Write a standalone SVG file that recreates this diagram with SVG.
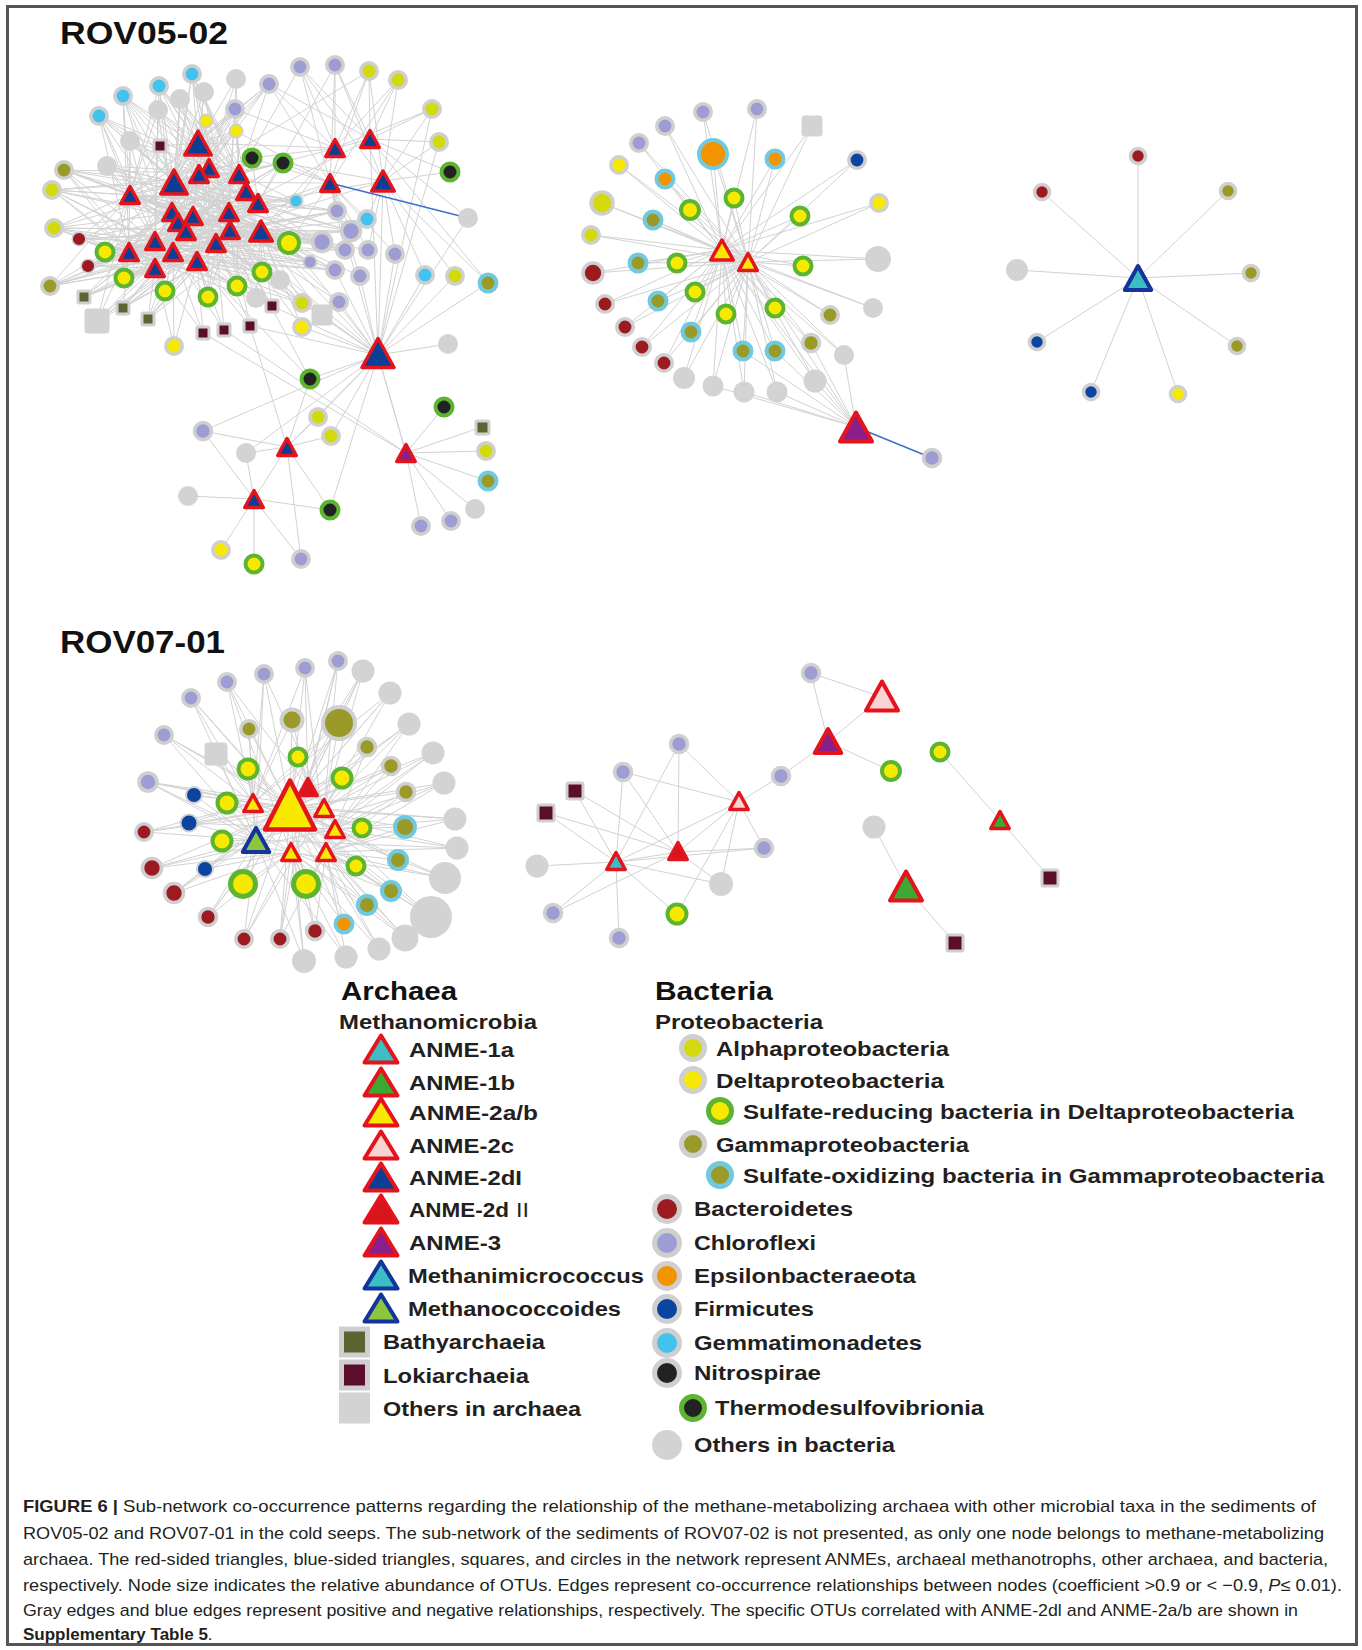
<svg xmlns="http://www.w3.org/2000/svg" width="1362" height="1650" viewBox="0 0 1362 1650">
<style>
.e{fill:none;stroke:#d2d2d2;stroke-width:1}
.ng{fill:none;stroke:#3d6fc9;stroke-width:1.4}
circle{stroke-width:3.6}
.al{fill:#d3da0b;stroke:#cfcfcf}
.de{fill:#f7e900;stroke:#cfcfcf}
.ga{fill:#999a27;stroke:#cfcfcf}
.bc{fill:#9b1b21;stroke:#cfcfcf}
.ch{fill:#9d9dd3;stroke:#cfcfcf}
.ep{fill:#f29400;stroke:#cfcfcf}
.fi{fill:#0c45a0;stroke:#cfcfcf}
.gm{fill:#44c2ee;stroke:#cfcfcf}
.ni{fill:#222222;stroke:#cfcfcf}
.ot{fill:#d3d3d3;stroke:none}
.srb{fill:#f7e900;stroke:#5cb431;stroke-width:4}
.sob{fill:#999a27;stroke:#70c9de;stroke-width:4}
.eps{fill:#f29400;stroke:#70c9de;stroke-width:4}
.tds{fill:#222222;stroke:#5cb431;stroke-width:4}
rect{stroke-width:3}
.ba{fill:#5d6431;stroke:#cfcfcf}
.lo{fill:#5b0e2c;stroke:#cfcfcf}
.oa{fill:#d3d3d3;stroke:#d3d3d3}
use{stroke-width:3.5;stroke-linejoin:round}
.t1a{fill:#3dbdc5;stroke:#e5131b}
.t1b{fill:#3aaa35;stroke:#e5131b}
.t2ab{fill:#f7e900;stroke:#e5131b}
.t2c{fill:#f7d4d4;stroke:#e5131b}
.t2d1{fill:#0b3f95;stroke:#e5131b}
.t2d2{fill:#d8141c;stroke:#e5131b}
.t3{fill:#8a1f8c;stroke:#e5131b}
.tmm{fill:#3dbdc5;stroke:#13349a}
.tmc{fill:#8cc63f;stroke:#13349a}
.h{font-family:"Liberation Sans",Arial,sans-serif;font-weight:bold;fill:#111}
.lg{font-family:"Liberation Sans",Arial,sans-serif;font-weight:bold;font-size:21px;fill:#231f20}
.cap{font-family:"Liberation Sans",Arial,sans-serif;font-size:17px;fill:#231f20}
</style>
<defs>
<path id="t22" d="M0-8.5L9.25 8.5H-9.25Z"/>
<path id="t26" d="M0-10L11.25 10H-11.25Z"/>
<path id="t30" d="M0-12L13.25 12H-13.25Z"/>
<path id="t36" d="M0-14.5L16 14.5H-16Z"/>
<path id="t55" d="M0-24.5L25 24.5H-25Z"/>
<path id="tl" d="M0-13.5L16.5 13.5H-16.5Z"/>
</defs>
<rect x="7.5" y="6.5" width="1349" height="1638" fill="#fff" stroke="#555" stroke-width="1.5"/>
<text class="h" x="60" y="44" font-size="32" textLength="168" lengthAdjust="spacingAndGlyphs">ROV05-02</text>
<text class="h" x="60" y="653" font-size="32" textLength="165" lengthAdjust="spacingAndGlyphs">ROV07-01</text>

<g id="connectors">
<path class="e" d="M198 143L192 74L174 182M209 168L192 74L172 212M239 174L192 74
M198 143L159 86L174 182M130 195L159 86L172 212M155 241L159 86
M174 182L123 96L130 195M172 212L123 96L129 252M173 252L123 96
M174 182L99 116L130 195M155 241L99 116L129 252M197 261L99 116
M198 143L236 79L209 168M239 174L236 79L229 212
M198 143L204 92L174 182M193 216L204 92L230 230
M174 182L180 99L172 212M173 252L180 99L216 243
M130 195L158 110L172 212M155 241L158 110L155 268
M198 143L269 84L239 174M335 148L269 84L370 139M330 183L269 84
M239 174L300 67L335 148M370 139L300 67L330 183M383 181L300 67
M335 148L335 65L370 139M330 183L335 65L383 181M258 203L335 65
M335 148L369 71L370 139M383 181L369 71L330 183M209 168L369 71
M370 139L398 80L383 181M335 148L398 80L330 183
M370 139L432 109L383 181M378 355L432 109L335 148
M383 181L439 142L370 139M378 355L439 142
M198 143L235 109L209 168M239 174L235 109L229 212M335 148L235 109
M198 143L206 121L174 182M209 168L206 121L193 216
M198 143L236 131L239 174M246 191L236 131L330 183
M174 182L130 141L130 195M155 241L130 141L129 252
M198 143L160 146L174 182M130 195L160 146
M239 174L252 158L258 203M330 183L252 158L335 148
M239 174L283 163L246 191M258 203L283 163L330 183M383 181L283 163
M383 181L450 172L370 139
M174 182L64 170L130 195M172 212L64 170L155 241M129 252L64 170L155 268
M174 182L52 190L130 195M155 241L52 190L129 252M173 252L52 190L155 268
M174 182L107 166L130 195M172 212L107 166L155 241
M130 195L54 228L155 241M129 252L54 228L155 268M173 252L54 228
M130 195L79 239L155 241M129 252L79 239L155 268
M129 252L88 266L155 268M197 261L88 266L155 241
M129 252L50 286L155 268M173 252L50 286L197 261M130 195L50 286
M130 195L105 252L155 241M129 252L105 252L155 268
M258 203L289 243L230 230M261 231L289 243L229 212M330 183L289 243
M129 252L124 278L155 268M173 252L124 278L197 261
M230 230L262 272L261 231M216 243L262 272L197 261
M155 268L165 291L173 252M197 261L165 291L155 241
M173 252L208 297L197 261M216 243L208 297L230 230
M216 243L237 286L230 230M261 231L237 286L197 261
M258 203L296 201L261 231M330 183L296 201L246 191M239 174L296 201L335 148
M258 203L337 211L261 231M330 183L337 211L230 230
M330 183L367 219L383 181M261 231L367 219
M261 231L351 231L330 183M258 203L351 231L230 230
M261 231L322 242L230 230M258 203L322 242L229 212
M261 231L345 250L230 230M330 183L345 250
M261 231L368 250L330 183M383 181L368 250
M383 181L395 254L330 183M378 355L395 254
M261 231L310 262L230 230M216 243L310 262
M261 231L335 270L230 230M197 261L335 270L378 355
M261 231L360 276L330 183M378 355L360 276
M261 231L339 302L230 230M378 355L339 302
M383 181L425 275L378 355
M383 181L455 276L378 355
M383 181L488 283L378 355M370 139L488 283
M378 355L468 218L370 139
M129 252L84 297L155 268M155 241L84 297
M129 252L123 308L155 268M173 252L123 308
M155 268L148 319L173 252M197 261L148 319
M129 252L97 321L155 268M130 195L97 321
M230 230L272 306L261 231M216 243L272 306L378 355
M216 243L250 326L230 230M197 261L250 326L378 355M287 447L250 326
M197 261L224 330L216 243M173 252L224 330L406 453
M197 261L203 333L173 252M155 268L203 333L406 453
M261 231L302 303L230 230M378 355L302 303
M230 230L302 327L261 231M378 355L302 327
M261 231L322 315L230 230M378 355L322 315
M155 268L174 346L173 252M197 261L174 346
M230 230L280 280L261 231M216 243L280 280
M230 230L256 298L261 231M216 243L256 298
M378 355L448 344
M378 355L261 231M378 355L230 230M378 355L258 203M378 355L330 183M378 355L383 181M378 355L216 243M378 355L370 139
M198 143L261 231M174 182L261 231M130 195L258 203M155 268L239 174M129 252L229 212M198 143L155 268M173 252L246 191M209 168L155 241M130 195L230 230M172 212L261 231M216 243L174 182M198 143L129 252M197 261L239 174M193 216L130 195M209 168L197 261M239 174L173 252M186 231L258 203M178 222L246 191M172 212L229 212M155 241L261 231
M335 148L198 143M370 139L239 174M330 183L174 182M383 181L258 203M335 148L261 231M370 139L229 212M330 183L155 241M383 181L230 230
M378 355L310 379M378 355L318 417M378 355L331 436M378 355L287 447M378 355L246 453M378 355L330 510M378 355L406 453M378 355L203 431
M287 447L203 431M287 447L246 453M287 447L318 417M287 447L331 436M287 447L330 510M287 447L301 559M287 447L254 499M287 447L310 379
M254 499L188 496M254 499L203 431M254 499L246 453M254 499L330 510M254 499L221 550M254 499L254 564M254 499L301 559
M406 453L444 407M406 453L482 427M406 453L486 451M406 453L488 481M406 453L475 509M406 453L451 521M406 453L421 526M406 453L378 355
M310 379L197 261M310 379L230 230"/>
<path class="e" d="M258 203L192 74L261 231L159 86L258 203L123 96L261 231L99 116L258 203L64 170L261 231L52 190L258 203L54 228L261 231L79 239L258 203L88 266L261 231L50 286L258 203L105 252L261 231L124 278L258 203L84 297L261 231L123 308L258 203L148 319L261 231L97 321L258 203L130 141L261 231L107 166L258 203L158 110L261 231L180 99L258 203
M230 230L192 74L239 174L159 86L230 230L123 96L239 174L99 116L230 230L64 170L239 174L52 190L230 230L54 228L239 174L79 239L230 230L88 266L239 174L50 286L230 230L105 252L239 174L124 278L230 230L84 297L239 174L123 308L230 230L148 319L239 174L97 321L230 230L130 141L239 174L107 166L230 230L158 110L239 174L180 99L230 230
M130 195L296 201L129 252L337 211L130 195L351 231L129 252L322 242L130 195L345 250L129 252L310 262L130 195L335 270L129 252L289 243L130 195L262 272L129 252L237 286L130 195L252 158L129 252L283 163L130 195L236 131L129 252L235 109L130 195L269 84L129 252L302 303L130 195L272 306L129 252L280 280L130 195
M155 241L296 201L174 182L337 211L155 241L351 231L174 182L322 242L155 241L345 250L174 182L310 262L155 241L335 270L174 182L289 243L155 241L262 272L174 182L237 286L155 241L252 158L174 182L283 163L155 241L236 131L174 182L235 109L155 241L269 84L174 182L302 303L155 241L272 306L174 182L280 280L155 241
M165 291L198 143M208 297L209 168M237 286L239 174M262 272L198 143M165 291L239 174M208 297L174 182M124 278L209 168M105 252L198 143M88 266L246 191"/>
<path class="ng" d="M330 183L468 218"/>
<path class="e" d="M722 250L703 112L748 262M722 250L757 109L748 262M722 250L665 126L748 262M722 250L639 143L748 262M722 250L812 126L748 262M722 250L713 154L748 262M722 250L775 159L748 262M722 250L665 179L748 262M722 250L857 160L748 262M722 250L619 165L748 262M722 250L602 203L748 262M722 250L690 210L748 262M722 250L734 198L748 262M722 250L800 216L748 262M722 250L879 203L748 262M722 250L653 220L748 262M722 250L591 235L748 262M722 250L638 263L748 262M722 250L677 263L748 262M722 250L803 266L748 262M722 250L878 259L748 262M722 250L593 273L748 262M722 250L605 304L748 262M722 250L625 327L748 262M722 250L642 347L748 262M722 250L664 363L748 262M722 250L658 301L748 262M722 250L695 292L748 262M722 250L726 314L748 262M722 250L775 308L748 262M722 250L873 308L748 262M722 250L830 315L748 262M722 250L691 332L748 262M722 250L743 351L748 262M722 250L775 351L748 262M722 250L811 343L748 262M722 250L844 355L748 262M722 250L684 378L748 262M722 250L713 386L748 262M722 250L744 392L748 262M722 250L777 392L748 262M722 250L815 381L748 262
M856 427L777 392M856 427L815 381M856 427L744 392M856 427L743 351M856 427L775 351M856 427L811 343M856 427L844 355M856 427L713 386M856 427L722 250M856 427L748 262"/>
<path class="ng" d="M856 427L932 458"/>
<path class="e" d="M1138 278L1138 156M1138 278L1042 192M1138 278L1228 191M1138 278L1251 273M1138 278L1237 346M1138 278L1017 270M1138 278L1037 342M1138 278L1091 392M1138 278L1178 394"/>
<path class="e" d="M290 808L338 661L308 787M324 808L338 661
M290 808L305 668L308 787M253 803L305 668
M290 808L264 674L253 803M256 840L264 674
M290 808L227 682L253 803M291 852L227 682
M290 808L191 698L253 803M256 840L191 698
M290 808L164 735L256 840M253 803L164 735
M290 808L148 782L253 803M256 840L148 782L291 852
M290 808L363 671L308 787M324 808L363 671
M290 808L390 693L324 808M308 787L390 693
M290 808L409 724L324 808M335 829L409 724
M290 808L433 753L335 829M324 808L433 753
M290 808L444 783L335 829M326 852L444 783
M290 808L455 819L335 829M326 852L455 819
M290 808L457 848L326 852M335 829L457 848
M290 808L445 878L326 852M291 852L445 878
M290 808L431 917L326 852M335 829L431 917
M290 808L405 938L326 852M291 852L405 938
M291 852L379 949L326 852M290 808L379 949
M291 852L346 957L326 852M256 840L346 957
M291 852L304 961L256 840M290 808L304 961
M290 808L339 723L308 787M324 808L339 723L253 803
M290 808L292 720L308 787M253 803L292 720
M290 808L249 729L253 803M256 840L249 729
M290 808L367 747L324 808M335 829L367 747
M290 808L391 766L324 808M335 829L391 766
M290 808L406 792L335 829M326 852L406 792
M290 808L216 754L253 803M256 840L216 754
M290 808L248 769L253 803M256 840L248 769
M290 808L298 757L308 787M324 808L298 757
M290 808L342 778L324 808M308 787L342 778
M290 808L227 803L256 840M291 852L227 803
M290 808L222 841L256 840M291 852L222 841
M335 829L362 828L326 852M290 808L362 828
M326 852L356 866L291 852M290 808L356 866
M256 840L243 884L291 852M290 808L243 884
M291 852L306 884L326 852M290 808L306 884
M290 808L194 795L253 803M256 840L194 795
M290 808L189 823L256 840M253 803L189 823
M256 840L205 869L291 852M290 808L205 869
M290 808L144 832L256 840M253 803L144 832
M290 808L152 868L256 840M291 852L152 868
M256 840L174 893L291 852M290 808L174 893
M256 840L208 917L291 852M290 808L208 917
M291 852L244 939L256 840M290 808L244 939
M291 852L280 939L326 852M290 808L280 939
M326 852L315 931L291 852M290 808L315 931
M335 829L405 827L326 852M290 808L405 827
M326 852L398 860L335 829M290 808L398 860
M326 852L391 891L291 852M290 808L391 891
M326 852L367 905L291 852M290 808L367 905
M326 852L344 924L291 852M290 808L344 924
M253 803L335 829M308 787L256 840M324 808L291 852M253 803L326 852
M148 782L324 808M164 735L335 829M191 698L326 852M144 832L324 808M152 868L335 829M455 819L253 803M444 783L256 840M433 753L291 852M409 724L256 840M445 878L253 803M431 917L253 803M363 671L256 840M338 661L291 852M305 668L326 852M264 674L335 829M244 939L324 808M280 939L308 787M208 917L308 787M227 682L324 808M390 693L253 803M457 848L256 840M405 938L253 803M189 823L335 829M174 893L308 787"/>
<path class="e" d="M811 673L882 697M811 673L828 742L882 697M828 742L891 771M828 742L781 776L739 802
M739 802L679 744M739 802L623 772M739 802L616 862M739 802L678 852M739 802L764 848M739 802L721 884M739 802L677 914
M616 862L575 791M616 862L546 813M616 862L537 866M616 862L623 772M616 862L679 744M616 862L678 852M616 862L764 848M616 862L721 884M616 862L553 913M616 862L619 938M616 862L677 914
M678 852L679 744M678 852L623 772M678 852L575 791M678 852L546 813M678 852L764 848M678 852L721 884M678 852L553 913
M940 752L1000 820L1050 878M874 827L906 887L955 943"/>
</g>

<g id="nodes-rov05-a">
<g id="a1"><circle class="ot" cx="236" cy="79" r="10"/></g>
<g id="a2"><circle class="ot" cx="204" cy="92" r="10"/></g>
<g id="a3"><circle class="ot" cx="180" cy="99" r="10"/></g>
<g id="a4"><circle class="ot" cx="158" cy="110" r="10"/></g>
<g id="a5"><circle class="ot" cx="130" cy="141" r="10"/></g>
<g id="a6"><circle class="ot" cx="107" cy="166" r="10"/></g>
<g id="a7"><circle class="ot" cx="280" cy="280" r="10"/></g>
<g id="a7b"><circle class="ot" cx="256" cy="298" r="10"/></g>
<g id="a8"><circle class="ot" cx="448" cy="344" r="10"/></g>
<g id="a9"><circle class="ot" cx="468" cy="218" r="10"/></g>
<g id="a10"><circle class="ch" cx="269" cy="84" r="8.2"/></g>
<g id="a11"><circle class="ch" cx="300" cy="67" r="8.2"/></g>
<g id="a12"><circle class="ch" cx="335" cy="65" r="8.2"/></g>
<g id="a13"><circle class="ch" cx="235" cy="109" r="8.2"/></g>
<g id="a14"><circle class="ch" cx="337" cy="211" r="8.2"/></g>
<g id="a15"><circle class="ch" cx="351" cy="231" r="9.5"/></g>
<g id="a16"><circle class="ch" cx="322" cy="242" r="9.5"/></g>
<g id="a17"><circle class="ch" cx="345" cy="250" r="8.2"/></g>
<g id="a18"><circle class="ch" cx="368" cy="250" r="8.2"/></g>
<g id="a19"><circle class="ch" cx="395" cy="254" r="8.2"/></g>
<g id="a20"><circle class="ch" cx="310" cy="262" r="6.5" style="stroke-width:2"/></g>
<g id="a21"><circle class="ch" cx="335" cy="270" r="8.2"/></g>
<g id="a22"><circle class="ch" cx="360" cy="276" r="8.2"/></g>
<g id="a23"><circle class="ch" cx="339" cy="302" r="8.2"/></g>
<g id="a24"><circle class="gm" cx="192" cy="74" r="8.2"/></g>
<g id="a25"><circle class="gm" cx="159" cy="86" r="8.2"/></g>
<g id="a26"><circle class="gm" cx="123" cy="96" r="8.2"/></g>
<g id="a27"><circle class="gm" cx="99" cy="116" r="8.2"/></g>
<g id="a28"><circle class="gm" cx="296" cy="201" r="6.5" style="stroke-width:2"/></g>
<g id="a29"><circle class="gm" cx="367" cy="219" r="8.2"/></g>
<g id="a30"><circle class="gm" cx="425" cy="275" r="8.2"/></g>
<g id="a31"><circle class="al" cx="369" cy="71" r="8.2"/></g>
<g id="a32"><circle class="al" cx="398" cy="80" r="8.2"/></g>
<g id="a33"><circle class="al" cx="432" cy="109" r="8.2"/></g>
<g id="a34"><circle class="al" cx="439" cy="142" r="8.2"/></g>
<g id="a35"><circle class="al" cx="52" cy="190" r="8.2"/></g>
<g id="a36"><circle class="al" cx="54" cy="228" r="8.2"/></g>
<g id="a37"><circle class="al" cx="455" cy="276" r="8.2"/></g>
<g id="a38"><circle class="al" cx="302" cy="303" r="8.2"/></g>
<g id="a39"><circle class="de" cx="206" cy="121" r="6.5" style="stroke-width:2"/></g>
<g id="a40"><circle class="de" cx="236" cy="131" r="6.5" style="stroke-width:2"/></g>
<g id="a41"><circle class="de" cx="302" cy="327" r="8.2"/></g>
<g id="a42"><circle class="de" cx="174" cy="346" r="8.2"/></g>
<g id="a43"><circle class="ga" cx="64" cy="170" r="8.2"/></g>
<g id="a44"><circle class="ga" cx="50" cy="286" r="8.2"/></g>
<g id="a45"><circle class="bc" cx="79" cy="239" r="6.8" style="stroke-width:1.5"/></g>
<g id="a46"><circle class="bc" cx="88" cy="266" r="6.8" style="stroke-width:1.5"/></g>
<g id="a47"><circle class="tds" cx="252" cy="158" r="8.5"/></g>
<g id="a48"><circle class="tds" cx="283" cy="163" r="8.5"/></g>
<g id="a49"><circle class="tds" cx="450" cy="172" r="8.5"/></g>
<g id="a50"><circle class="srb" cx="105" cy="252" r="8.5"/></g>
<g id="a51"><circle class="srb" cx="289" cy="243" r="10"/></g>
<g id="a52"><circle class="srb" cx="124" cy="278" r="8.5"/></g>
<g id="a53"><circle class="srb" cx="262" cy="272" r="8.5"/></g>
<g id="a54"><circle class="srb" cx="165" cy="291" r="8.5"/></g>
<g id="a55"><circle class="srb" cx="208" cy="297" r="8.5"/></g>
<g id="a56"><circle class="srb" cx="237" cy="286" r="8.5"/></g>
<g id="a57"><circle class="sob" cx="488" cy="283" r="8.5"/></g>
<g id="a58"><rect class="lo" x="154" y="140" width="12" height="12" rx="1.5"/></g>
<g id="a59"><rect class="lo" x="266" y="300" width="12" height="12" rx="1.5"/></g>
<g id="a60"><rect class="lo" x="244" y="320" width="12" height="12" rx="1.5"/></g>
<g id="a61"><rect class="lo" x="218" y="324" width="12" height="12" rx="1.5"/></g>
<g id="a62"><rect class="lo" x="197" y="327" width="12" height="12" rx="1.5"/></g>
<g id="a63"><rect class="ba" x="78" y="291" width="12" height="12" rx="1.5"/></g>
<g id="a64"><rect class="ba" x="117" y="302" width="12" height="12" rx="1.5"/></g>
<g id="a65"><rect class="ba" x="142" y="313" width="12" height="12" rx="1.5"/></g>
<g id="a66"><rect class="oa" x="86" y="310" width="22" height="22" rx="2"/></g>
<g id="a67"><rect class="oa" x="313" y="306" width="18" height="18" rx="2"/></g>
<g id="a68"><use href="#t30" x="198" y="143" class="t2d1"/></g>
<g id="a69"><use href="#t30" x="174" y="182" class="t2d1"/></g>
<g id="a70"><use href="#t22" x="130" y="195" class="t2d1"/></g>
<g id="a71"><use href="#t22" x="209" y="168" class="t2d1"/></g>
<g id="a72"><use href="#t22" x="199" y="174" class="t2d1"/></g>
<g id="a73"><use href="#t22" x="239" y="174" class="t2d1"/></g>
<g id="a74"><use href="#t22" x="246" y="191" class="t2d1"/></g>
<g id="a75"><use href="#t22" x="258" y="203" class="t2d1"/></g>
<g id="a76"><use href="#t22" x="172" y="212" class="t2d1"/></g>
<g id="a77"><use href="#t22" x="193" y="216" class="t2d1"/></g>
<g id="a78"><use href="#t22" x="178" y="222" class="t2d1"/></g>
<g id="a79"><use href="#t22" x="186" y="231" class="t2d1"/></g>
<g id="a80"><use href="#t22" x="229" y="212" class="t2d1"/></g>
<g id="a81"><use href="#t22" x="230" y="230" class="t2d1"/></g>
<g id="a82"><use href="#t26" x="261" y="231" class="t2d1"/></g>
<g id="a83"><use href="#t22" x="155" y="241" class="t2d1"/></g>
<g id="a84"><use href="#t22" x="129" y="252" class="t2d1"/></g>
<g id="a85"><use href="#t22" x="173" y="252" class="t2d1"/></g>
<g id="a86"><use href="#t22" x="216" y="243" class="t2d1"/></g>
<g id="a87"><use href="#t22" x="197" y="261" class="t2d1"/></g>
<g id="a88"><use href="#t22" x="155" y="268" class="t2d1"/></g>
<g id="a89"><use href="#t22" x="335" y="148" class="t2d1"/></g>
<g id="a90"><use href="#t22" x="370" y="139" class="t2d1"/></g>
<g id="a91"><use href="#t22" x="330" y="183" class="t2d1"/></g>
<g id="a92"><use href="#t26" x="383" y="181" class="t2d1"/></g>
<g id="a93"><circle class="ch" cx="203" cy="431" r="8.5"/></g>
<g id="a94"><circle class="ot" cx="246" cy="453" r="10"/></g>
<g id="a95"><circle class="ot" cx="188" cy="496" r="10"/></g>
<g id="a96"><circle class="ch" cx="301" cy="559" r="8.2"/></g>
<g id="a97"><circle class="de" cx="221" cy="550" r="8.2"/></g>
<g id="a98"><circle class="srb" cx="254" cy="564" r="8.5"/></g>
<g id="a99"><circle class="tds" cx="310" cy="379" r="8.5"/></g>
<g id="a100"><circle class="al" cx="318" cy="417" r="8.2"/></g>
<g id="a101"><circle class="al" cx="331" cy="436" r="8.2"/></g>
<g id="a102"><circle class="tds" cx="330" cy="510" r="8.5"/></g>
<g id="a103"><circle class="tds" cx="444" cy="407" r="8.5"/></g>
<g id="a104"><rect class="ba" x="476" y="421" width="13" height="13" rx="1.5"/></g>
<g id="a105"><circle class="al" cx="486" cy="451" r="8.2"/></g>
<g id="a106"><circle class="sob" cx="488" cy="481" r="8.5"/></g>
<g id="a107"><circle class="ot" cx="475" cy="509" r="10"/></g>
<g id="a108"><circle class="ch" cx="451" cy="521" r="8.2"/></g>
<g id="a109"><circle class="ch" cx="421" cy="526" r="8.2"/></g>
<g id="a110"><use href="#t36" x="378" y="353" class="t2d1"/></g>
<g id="a111"><use href="#t22" x="287" y="447" class="t2d1"/></g>
<g id="a112"><use href="#t22" x="254" y="499" class="t2d1"/></g>
<g id="a113"><use href="#t22" x="406" y="453" class="t3"/></g>
</g>

<g id="nodes-rov05-b">
<g id="b1"><circle class="ch" cx="703" cy="112" r="8.2"/></g>
<g id="b2"><circle class="ch" cx="757" cy="109" r="8.2"/></g>
<g id="b3"><circle class="ch" cx="665" cy="126" r="8.2"/></g>
<g id="b4"><circle class="ch" cx="639" cy="143" r="8.2"/></g>
<g id="b5"><rect class="oa" x="803" y="117" width="18" height="18" rx="2"/></g>
<g id="b6"><circle class="eps" cx="713" cy="154" r="14"/></g>
<g id="b7"><circle class="eps" cx="775" cy="159" r="8.5"/></g>
<g id="b8"><circle class="eps" cx="665" cy="179" r="8.5"/></g>
<g id="b9"><circle class="fi" cx="857" cy="160" r="8.2"/></g>
<g id="b10"><circle class="de" cx="619" cy="165" r="8.2"/></g>
<g id="b11"><circle class="al" cx="602" cy="203" r="11"/></g>
<g id="b12"><circle class="srb" cx="690" cy="210" r="9"/></g>
<g id="b13"><circle class="srb" cx="734" cy="198" r="8.5"/></g>
<g id="b14"><circle class="srb" cx="800" cy="216" r="8.5"/></g>
<g id="b15"><circle class="de" cx="879" cy="203" r="8.2"/></g>
<g id="b16"><circle class="sob" cx="653" cy="220" r="8.5"/></g>
<g id="b17"><circle class="al" cx="591" cy="235" r="8.2"/></g>
<g id="b18"><circle class="sob" cx="638" cy="263" r="8.5"/></g>
<g id="b19"><circle class="srb" cx="677" cy="263" r="8.5"/></g>
<g id="b20"><circle class="srb" cx="803" cy="266" r="8.5"/></g>
<g id="b21"><circle class="ot" cx="878" cy="259" r="13"/></g>
<g id="b22"><circle class="bc" cx="593" cy="273" r="10"/></g>
<g id="b23"><circle class="bc" cx="605" cy="304" r="8.2"/></g>
<g id="b24"><circle class="bc" cx="625" cy="327" r="8.2"/></g>
<g id="b25"><circle class="bc" cx="642" cy="347" r="8.2"/></g>
<g id="b26"><circle class="bc" cx="664" cy="363" r="8.2"/></g>
<g id="b27"><circle class="sob" cx="658" cy="301" r="8.5"/></g>
<g id="b28"><circle class="srb" cx="695" cy="292" r="8.5"/></g>
<g id="b29"><circle class="srb" cx="726" cy="314" r="8.5"/></g>
<g id="b30"><circle class="srb" cx="775" cy="308" r="8.5"/></g>
<g id="b31"><circle class="ot" cx="873" cy="308" r="10"/></g>
<g id="b32"><circle class="ga" cx="830" cy="315" r="8.2"/></g>
<g id="b33"><circle class="sob" cx="691" cy="332" r="8.5"/></g>
<g id="b34"><circle class="sob" cx="743" cy="351" r="8.5"/></g>
<g id="b35"><circle class="sob" cx="775" cy="351" r="8.5"/></g>
<g id="b36"><circle class="ga" cx="811" cy="343" r="8.5"/></g>
<g id="b37"><circle class="ot" cx="844" cy="355" r="10"/></g>
<g id="b38"><circle class="ot" cx="684" cy="378" r="11"/></g>
<g id="b39"><circle class="ot" cx="713" cy="386" r="10.5"/></g>
<g id="b40"><circle class="ot" cx="744" cy="392" r="10.5"/></g>
<g id="b41"><circle class="ot" cx="777" cy="392" r="10.5"/></g>
<g id="b42"><circle class="ot" cx="815" cy="381" r="11.5"/></g>
<g id="b43"><circle class="ch" cx="932" cy="458" r="8.5"/></g>
<g id="b44"><use href="#t26" x="722" y="250" class="t2ab"/></g>
<g id="b45"><use href="#t22" x="748" y="262" class="t2ab"/></g>
<g id="b46"><use href="#t36" x="856" y="427" class="t3" style="stroke-width:4"/></g>
</g>

<g id="nodes-rov05-c">
<g id="c1"><circle class="bc" cx="1138" cy="156" r="7.5"/></g>
<g id="c2"><circle class="bc" cx="1042" cy="192" r="7.5"/></g>
<g id="c3"><circle class="ga" cx="1228" cy="191" r="7.5"/></g>
<g id="c4"><circle class="ga" cx="1251" cy="273" r="7.5"/></g>
<g id="c5"><circle class="ga" cx="1237" cy="346" r="7.5"/></g>
<g id="c6"><circle class="ot" cx="1017" cy="270" r="11"/></g>
<g id="c7"><circle class="fi" cx="1037" cy="342" r="7.5"/></g>
<g id="c8"><circle class="fi" cx="1091" cy="392" r="7.5"/></g>
<g id="c9"><circle class="de" cx="1178" cy="394" r="7.5"/></g>
<g id="c10"><use href="#t30" x="1138" y="278" class="tmm" style="stroke-width:4"/></g>
</g>

<g id="nodes-rov07-a">
<g id="d1"><circle class="ch" cx="338" cy="661" r="8.2"/></g>
<g id="d2"><circle class="ch" cx="305" cy="668" r="8.2"/></g>
<g id="d3"><circle class="ch" cx="264" cy="674" r="8.2"/></g>
<g id="d4"><circle class="ch" cx="227" cy="682" r="8.2"/></g>
<g id="d5"><circle class="ch" cx="191" cy="698" r="8.2"/></g>
<g id="d6"><circle class="ch" cx="164" cy="735" r="8.2"/></g>
<g id="d7"><circle class="ch" cx="148" cy="782" r="9"/></g>
<g id="d8"><circle class="ot" cx="363" cy="671" r="11.5"/></g>
<g id="d9"><circle class="ot" cx="390" cy="693" r="11.5"/></g>
<g id="d10"><circle class="ot" cx="409" cy="724" r="11.5"/></g>
<g id="d11"><circle class="ot" cx="433" cy="753" r="11.5"/></g>
<g id="d12"><circle class="ot" cx="444" cy="783" r="11.5"/></g>
<g id="d13"><circle class="ot" cx="455" cy="819" r="11.5"/></g>
<g id="d14"><circle class="ot" cx="457" cy="848" r="11.5"/></g>
<g id="d15"><circle class="ot" cx="445" cy="878" r="16"/></g>
<g id="d16"><circle class="ot" cx="431" cy="917" r="21"/></g>
<g id="d17"><circle class="ot" cx="405" cy="938" r="13.5"/></g>
<g id="d18"><circle class="ot" cx="379" cy="949" r="11.5"/></g>
<g id="d19"><circle class="ot" cx="346" cy="957" r="11.5"/></g>
<g id="d20"><circle class="ot" cx="304" cy="961" r="12"/></g>
<g id="d21"><circle class="ga" cx="339" cy="723" r="16" style="stroke-width:4"/></g>
<g id="d22"><circle class="ga" cx="292" cy="720" r="10.5" style="stroke-width:4"/></g>
<g id="d23"><circle class="ga" cx="249" cy="729" r="8.2"/></g>
<g id="d24"><circle class="ga" cx="367" cy="747" r="8.5"/></g>
<g id="d25"><circle class="ga" cx="391" cy="766" r="8.5"/></g>
<g id="d26"><circle class="ga" cx="406" cy="792" r="8.5"/></g>
<g id="d27"><rect class="oa" x="206" y="744" width="20" height="20" rx="2"/></g>
<g id="d28"><circle class="srb" cx="248" cy="769" r="9.5"/></g>
<g id="d29"><circle class="srb" cx="298" cy="757" r="8.5"/></g>
<g id="d30"><circle class="srb" cx="342" cy="778" r="9.5"/></g>
<g id="d31"><circle class="srb" cx="227" cy="803" r="9.5"/></g>
<g id="d32"><circle class="srb" cx="222" cy="841" r="9.5"/></g>
<g id="d33"><circle class="srb" cx="362" cy="828" r="8.5"/></g>
<g id="d34"><circle class="srb" cx="356" cy="866" r="8.5"/></g>
<g id="d35"><circle class="srb" cx="243" cy="884" r="12.5" style="stroke-width:5"/></g>
<g id="d36"><circle class="srb" cx="306" cy="884" r="12.5" style="stroke-width:5"/></g>
<g id="d37"><circle class="fi" cx="194" cy="795" r="8" style="stroke-width:2"/></g>
<g id="d38"><circle class="fi" cx="189" cy="823" r="8.5" style="stroke-width:2"/></g>
<g id="d39"><circle class="fi" cx="205" cy="869" r="8" style="stroke-width:2"/></g>
<g id="d40"><circle class="bc" cx="144" cy="832" r="8.2"/></g>
<g id="d41"><circle class="bc" cx="152" cy="868" r="9.5"/></g>
<g id="d42"><circle class="bc" cx="174" cy="893" r="9.5"/></g>
<g id="d43"><circle class="bc" cx="208" cy="917" r="8.5"/></g>
<g id="d44"><circle class="bc" cx="244" cy="939" r="8.2"/></g>
<g id="d45"><circle class="bc" cx="280" cy="939" r="8.2"/></g>
<g id="d46"><circle class="bc" cx="315" cy="931" r="8.5"/></g>
<g id="d47"><circle class="sob" cx="405" cy="827" r="10"/></g>
<g id="d48"><circle class="sob" cx="398" cy="860" r="9"/></g>
<g id="d49"><circle class="sob" cx="391" cy="891" r="9"/></g>
<g id="d50"><circle class="sob" cx="367" cy="905" r="9"/></g>
<g id="d51"><circle class="eps" cx="344" cy="924" r="8.5"/></g>
<g id="d52"><use href="#t22" x="308" y="787" class="t2d2"/></g>
<g id="d53"><use href="#t55" x="290" y="805" class="t2ab" style="stroke-width:4.5"/></g>
<g id="d54"><use href="#t22" x="253" y="803" class="t2ab"/></g>
<g id="d55"><use href="#t22" x="324" y="808" class="t2ab"/></g>
<g id="d56"><use href="#t22" x="335" y="829" class="t2ab"/></g>
<g id="d57"><use href="#t22" x="291" y="852" class="t2ab"/></g>
<g id="d58"><use href="#t22" x="326" y="852" class="t2ab"/></g>
<g id="d59"><use href="#t30" x="256" y="840" class="tmc" style="stroke-width:4"/></g>
</g>

<g id="nodes-rov07-b">
<g id="f1"><circle class="ch" cx="811" cy="673" r="8.5"/></g>
<g id="f2"><circle class="srb" cx="891" cy="771" r="9"/></g>
<g id="f3"><circle class="srb" cx="940" cy="752" r="8.5"/></g>
<g id="f4"><circle class="ch" cx="781" cy="776" r="8.5"/></g>
<g id="f5"><circle class="ch" cx="679" cy="744" r="8.5"/></g>
<g id="f6"><circle class="ch" cx="623" cy="772" r="8.5"/></g>
<g id="f7"><rect class="lo" x="567" y="783" width="16" height="16" rx="1.5"/></g>
<g id="f8"><rect class="lo" x="538" y="805" width="16" height="16" rx="1.5"/></g>
<g id="f9"><circle class="ch" cx="764" cy="848" r="8.5"/></g>
<g id="f10"><circle class="ot" cx="537" cy="866" r="11.5"/></g>
<g id="f11"><circle class="ot" cx="721" cy="884" r="12"/></g>
<g id="f12"><circle class="ch" cx="553" cy="913" r="8.5"/></g>
<g id="f13"><circle class="ch" cx="619" cy="938" r="8.5"/></g>
<g id="f14"><circle class="srb" cx="677" cy="914" r="9.5"/></g>
<g id="f15"><circle class="ot" cx="874" cy="827" r="11.5"/></g>
<g id="f16"><rect class="lo" x="947" y="935" width="16" height="16" rx="1.5"/></g>
<g id="f17"><rect class="lo" x="1042" y="870" width="16" height="16" rx="1.5"/></g>
<g id="f18"><use href="#t36" x="882" y="696" class="t2c" style="stroke-width:4"/></g>
<g id="f19"><use href="#t30" x="828" y="741" class="t3" style="stroke-width:4"/></g>
<g id="f20"><use href="#t22" x="739" y="801" class="t2c"/></g>
<g id="f21"><use href="#t22" x="678" y="851" class="t2d2"/></g>
<g id="f22"><use href="#t22" x="616" y="861" class="t1a"/></g>
<g id="f23"><use href="#t36" x="906" y="886" class="t1b" style="stroke-width:4"/></g>
<g id="f24"><use href="#t22" x="1000" y="820" class="t1b"/></g>
</g>

<g id="legend-archaea">
<text class="h" x="341" y="1000" font-size="26" textLength="116" lengthAdjust="spacingAndGlyphs">Archaea</text>
<text class="lg" x="339" y="1029" font-size="20" textLength="198" lengthAdjust="spacingAndGlyphs">Methanomicrobia</text>
<g id="lg1"><use href="#tl" x="381" y="1049" class="t1a" style="stroke-width:4"/><text class="lg" x="409" y="1057" textLength="105" lengthAdjust="spacingAndGlyphs">ANME-1a</text></g>
<g id="lg2"><use href="#tl" x="381" y="1082" class="t1b" style="stroke-width:4"/><text class="lg" x="409" y="1090" textLength="106" lengthAdjust="spacingAndGlyphs">ANME-1b</text></g>
<g id="lg3"><use href="#tl" x="381" y="1112" class="t2ab" style="stroke-width:4"/><text class="lg" x="409" y="1120" textLength="129" lengthAdjust="spacingAndGlyphs">ANME-2a/b</text></g>
<g id="lg4"><use href="#tl" x="381" y="1145" class="t2c" style="stroke-width:4"/><text class="lg" x="409" y="1153" textLength="105" lengthAdjust="spacingAndGlyphs">ANME-2c</text></g>
<g id="lg5"><use href="#tl" x="381" y="1177" class="t2d1" style="stroke-width:4"/><text class="lg" x="409" y="1185" textLength="113" lengthAdjust="spacingAndGlyphs">ANME-2dI</text></g>
<g id="lg6"><use href="#tl" x="381" y="1209" class="t2d2" style="stroke-width:4"/><text class="lg" x="409" y="1217" textLength="100" lengthAdjust="spacingAndGlyphs">ANME-2d</text><text class="lg" x="516" y="1217" style="font-weight:normal" textLength="13" lengthAdjust="spacingAndGlyphs">II</text></g>
<g id="lg7"><use href="#tl" x="381" y="1242" class="t3" style="stroke-width:4"/><text class="lg" x="409" y="1250" textLength="92" lengthAdjust="spacingAndGlyphs">ANME-3</text></g>
<g id="lg8"><use href="#tl" x="381" y="1275" class="tmm" style="stroke-width:4"/><text class="lg" x="408" y="1283" textLength="236" lengthAdjust="spacingAndGlyphs">Methanimicrococcus</text></g>
<g id="lg9"><use href="#tl" x="381" y="1308" class="tmc" style="stroke-width:4"/><text class="lg" x="408" y="1316" textLength="213" lengthAdjust="spacingAndGlyphs">Methanococcoides</text></g>
<g id="lg10"><rect class="ba" x="341.5" y="1329" width="26" height="26" style="stroke-width:5"/><text class="lg" x="383" y="1349" textLength="162" lengthAdjust="spacingAndGlyphs">Bathyarchaeia</text></g>
<g id="lg11"><rect class="lo" x="341.5" y="1362" width="26" height="26" style="stroke-width:5"/><text class="lg" x="383" y="1383" textLength="146" lengthAdjust="spacingAndGlyphs">Lokiarchaeia</text></g>
<g id="lg12"><rect class="oa" x="341.5" y="1395" width="26" height="26" style="stroke-width:5"/><text class="lg" x="383" y="1416" textLength="198" lengthAdjust="spacingAndGlyphs">Others in archaea</text></g>
</g>

<g id="legend-bacteria">
<text class="h" x="655" y="1000" font-size="26" textLength="118" lengthAdjust="spacingAndGlyphs">Bacteria</text>
<text class="lg" x="655" y="1029" font-size="20" textLength="168" lengthAdjust="spacingAndGlyphs">Proteobacteria</text>
<g id="lb1"><circle class="al" cx="693" cy="1048" r="11.5" style="stroke-width:5"/><text class="lg" x="716" y="1056" textLength="233" lengthAdjust="spacingAndGlyphs">Alphaproteobacteria</text></g>
<g id="lb2"><circle class="de" cx="693" cy="1080" r="11.5" style="stroke-width:5"/><text class="lg" x="716" y="1088" textLength="228" lengthAdjust="spacingAndGlyphs">Deltaproteobacteria</text></g>
<g id="lb3"><circle class="srb" cx="720" cy="1111" r="11.5" style="stroke-width:5"/><text class="lg" x="743" y="1119" textLength="551" lengthAdjust="spacingAndGlyphs">Sulfate-reducing bacteria in Deltaproteobacteria</text></g>
<g id="lb4"><circle class="ga" cx="693" cy="1144" r="11.5" style="stroke-width:5"/><text class="lg" x="716" y="1152" textLength="253" lengthAdjust="spacingAndGlyphs">Gammaproteobacteria</text></g>
<g id="lb5"><circle class="sob" cx="720" cy="1175" r="11.5" style="stroke-width:5"/><text class="lg" x="743" y="1183" textLength="581" lengthAdjust="spacingAndGlyphs">Sulfate-oxidizing bacteria in Gammaproteobacteria</text></g>
<g id="lb6"><circle class="bc" cx="667" cy="1209" r="12.5" style="stroke-width:5"/><text class="lg" x="694" y="1216" textLength="159" lengthAdjust="spacingAndGlyphs">Bacteroidetes</text></g>
<g id="lb7"><circle class="ch" cx="667" cy="1243" r="12.5" style="stroke-width:5"/><text class="lg" x="694" y="1250" textLength="122" lengthAdjust="spacingAndGlyphs">Chloroflexi</text></g>
<g id="lb8"><circle class="ep" cx="667" cy="1276" r="12.5" style="stroke-width:5"/><text class="lg" x="694" y="1283" textLength="222" lengthAdjust="spacingAndGlyphs">Epsilonbacteraeota</text></g>
<g id="lb9"><circle class="fi" cx="667" cy="1309" r="12.5" style="stroke-width:5"/><text class="lg" x="694" y="1316" textLength="120" lengthAdjust="spacingAndGlyphs">Firmicutes</text></g>
<g id="lb10"><circle class="gm" cx="667" cy="1343" r="12.5" style="stroke-width:5"/><text class="lg" x="694" y="1350" textLength="228" lengthAdjust="spacingAndGlyphs">Gemmatimonadetes</text></g>
<g id="lb11"><circle class="ni" cx="667" cy="1373" r="12.5" style="stroke-width:5"/><text class="lg" x="694" y="1380" textLength="127" lengthAdjust="spacingAndGlyphs">Nitrospirae</text></g>
<g id="lb12"><circle class="tds" cx="693" cy="1408" r="11.5" style="stroke-width:5"/><text class="lg" x="715" y="1415" textLength="269" lengthAdjust="spacingAndGlyphs">Thermodesulfovibrionia</text></g>
<g id="lb13"><circle class="ot" cx="667" cy="1445" r="15"/><text class="lg" x="694" y="1452" textLength="201" lengthAdjust="spacingAndGlyphs">Others in bacteria</text></g>
</g>

<g id="caption">
<text class="cap" x="23" y="1512" font-weight="bold" textLength="95" lengthAdjust="spacingAndGlyphs">FIGURE 6 |</text>
<text class="cap" x="123" y="1512" textLength="1193" lengthAdjust="spacingAndGlyphs">Sub-network co-occurrence patterns regarding the relationship of the methane-metabolizing archaea with other microbial taxa in the sediments of</text>
<text class="cap" x="23" y="1539" textLength="1301" lengthAdjust="spacingAndGlyphs">ROV05-02 and ROV07-01 in the cold seeps. The sub-network of the sediments of ROV07-02 is not presented, as only one node belongs to methane-metabolizing</text>
<text class="cap" x="23" y="1565" textLength="1305" lengthAdjust="spacingAndGlyphs">archaea. The red-sided triangles, blue-sided triangles, squares, and circles in the network represent ANMEs, archaeal methanotrophs, other archaea, and bacteria,</text>
<text class="cap" x="23" y="1591" textLength="1319" lengthAdjust="spacingAndGlyphs">respectively. Node size indicates the relative abundance of OTUs. Edges represent co-occurrence relationships between nodes (coefficient &gt;0.9 or &lt; −0.9, <tspan font-style="italic">P</tspan>≤ 0.01).</text>
<text class="cap" x="23" y="1616" textLength="1275" lengthAdjust="spacingAndGlyphs">Gray edges and blue edges represent positive and negative relationships, respectively. The specific OTUs correlated with ANME-2dl and ANME-2a/b are shown in</text>
<text class="cap" x="23" y="1640"><tspan font-weight="bold">Supplementary Table 5</tspan>.</text>
</g>
</svg>
